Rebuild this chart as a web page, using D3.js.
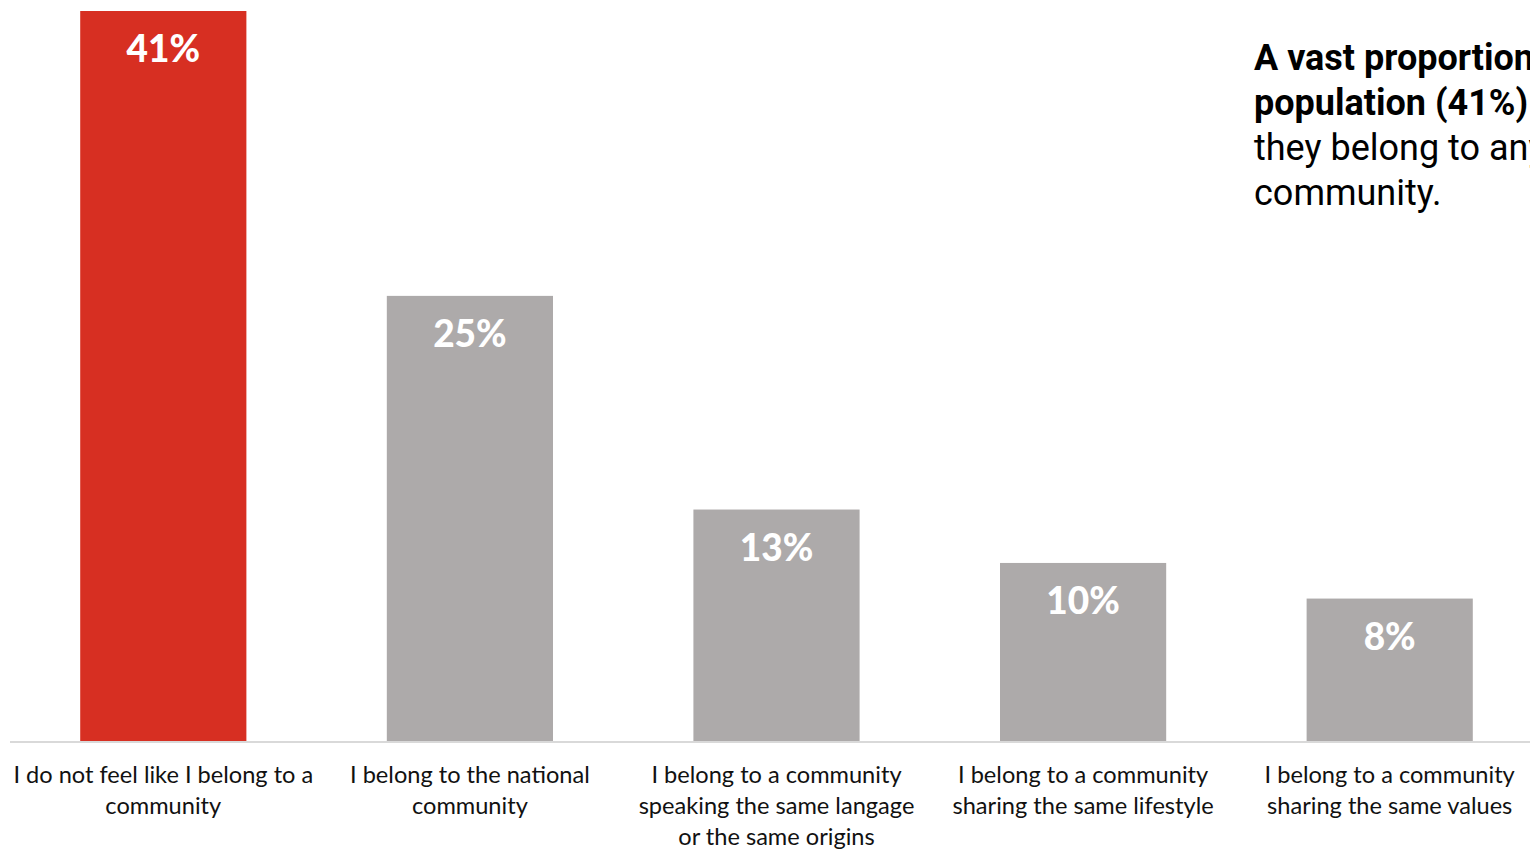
<!DOCTYPE html>
<html>
<head>
<meta charset="utf-8">
<script src="https://cdn.jsdelivr.net/npm/d3@7"></script>
<style>
  html, body { margin: 0; padding: 0; background: #fff; overflow: hidden; }
  svg { display: block; }
</style>
</head>
<body>
<svg id="chart" width="1530" height="849"></svg>
<script>
// Share of respondents by sense of community belonging
const categories = [
  ["I do not feel like I belong to a", "community"],
  ["I belong to the national", "community"],
  ["I belong to a community", "speaking the same langage", "or the same origins"],
  ["I belong to a community", "sharing the same lifestyle"],
  ["I belong to a community", "sharing the same values"]
];
const values = [41, 25, 13, 10, 8];
const valueLabels = ["41%", "25%", "13%", "10%", "8%"];
const highlightIndex = [0];

const noteLines = [
  [{ t: "A vast proportion of the", b: true }],
  [{ t: "population (41%)", b: true }, { t: " do not feel", b: false }],
  [{ t: "they belong to any", b: false }],
  [{ t: "community.", b: false }]
];

const W = 1530, H = 849;
const baseY = 741, topY = 11;
const svg = d3.select("#chart");

const x = d3.scaleBand()
  .domain(d3.range(values.length))
  .range([10, 1543])
  .paddingInner(0.458)
  .paddingOuter(0.229);

const y = d3.scaleLinear().domain([0, 41]).range([baseY, topY]);

// bars
svg.append("g").selectAll("rect")
  .data(values)
  .join("rect")
  .attr("x", (d, i) => x(i))
  .attr("y", d => y(d))
  .attr("width", x.bandwidth())
  .attr("height", d => baseY - y(d))
  .attr("fill", (d, i) => highlightIndex.includes(i) ? "#d72f22" : "#adaaaa");

// baseline
svg.append("line")
  .attr("x1", 10).attr("x2", W)
  .attr("y1", baseY + 1).attr("y2", baseY + 1)
  .attr("stroke", "#d9d9d9").attr("stroke-width", 2);

// value labels inside bar tops
svg.append("g").selectAll("text")
  .data(values)
  .join("text")
  .attr("x", (d, i) => x(i) + x.bandwidth() / 2)
  .attr("y", d => y(d) + 51)
  .attr("text-anchor", "middle")
  .attr("font-family", "Lato, 'Open Sans', sans-serif")
  .attr("font-weight", 900)
  .attr("font-size", 37)
  .attr("fill", "#ffffff")
  .text((d, i) => valueLabels[i]);

// category labels
const cat = svg.append("g").selectAll("text")
  .data(categories)
  .join("text")
  .attr("text-anchor", "middle")
  .attr("font-family", "Lato, 'Open Sans', sans-serif")
  .attr("font-size", 23.6)
  .attr("fill", "#111");
cat.each(function(lines, i) {
  const t = d3.select(this);
  lines.forEach((ln, k) => {
    t.append("tspan")
      .attr("x", x(i) + x.bandwidth() / 2)
      .attr("y", 783 + k * 31)
      .text(ln);
  });
});

// annotation at top right
const note = svg.append("text")
  .attr("font-family", "Roboto, Inter, sans-serif")
  .attr("font-size", 36)
  .attr("fill", "#000");
noteLines.forEach((parts, k) => {
  const line = note.append("tspan").attr("x", 1254).attr("y", 70 + k * 45);
  parts.forEach((p, j) => {
    const s = j === 0 ? line : note.append("tspan");
    s.text(p.t).attr("font-weight", p.b ? 700 : 400);
  });
});
</script>
</body>
</html>
